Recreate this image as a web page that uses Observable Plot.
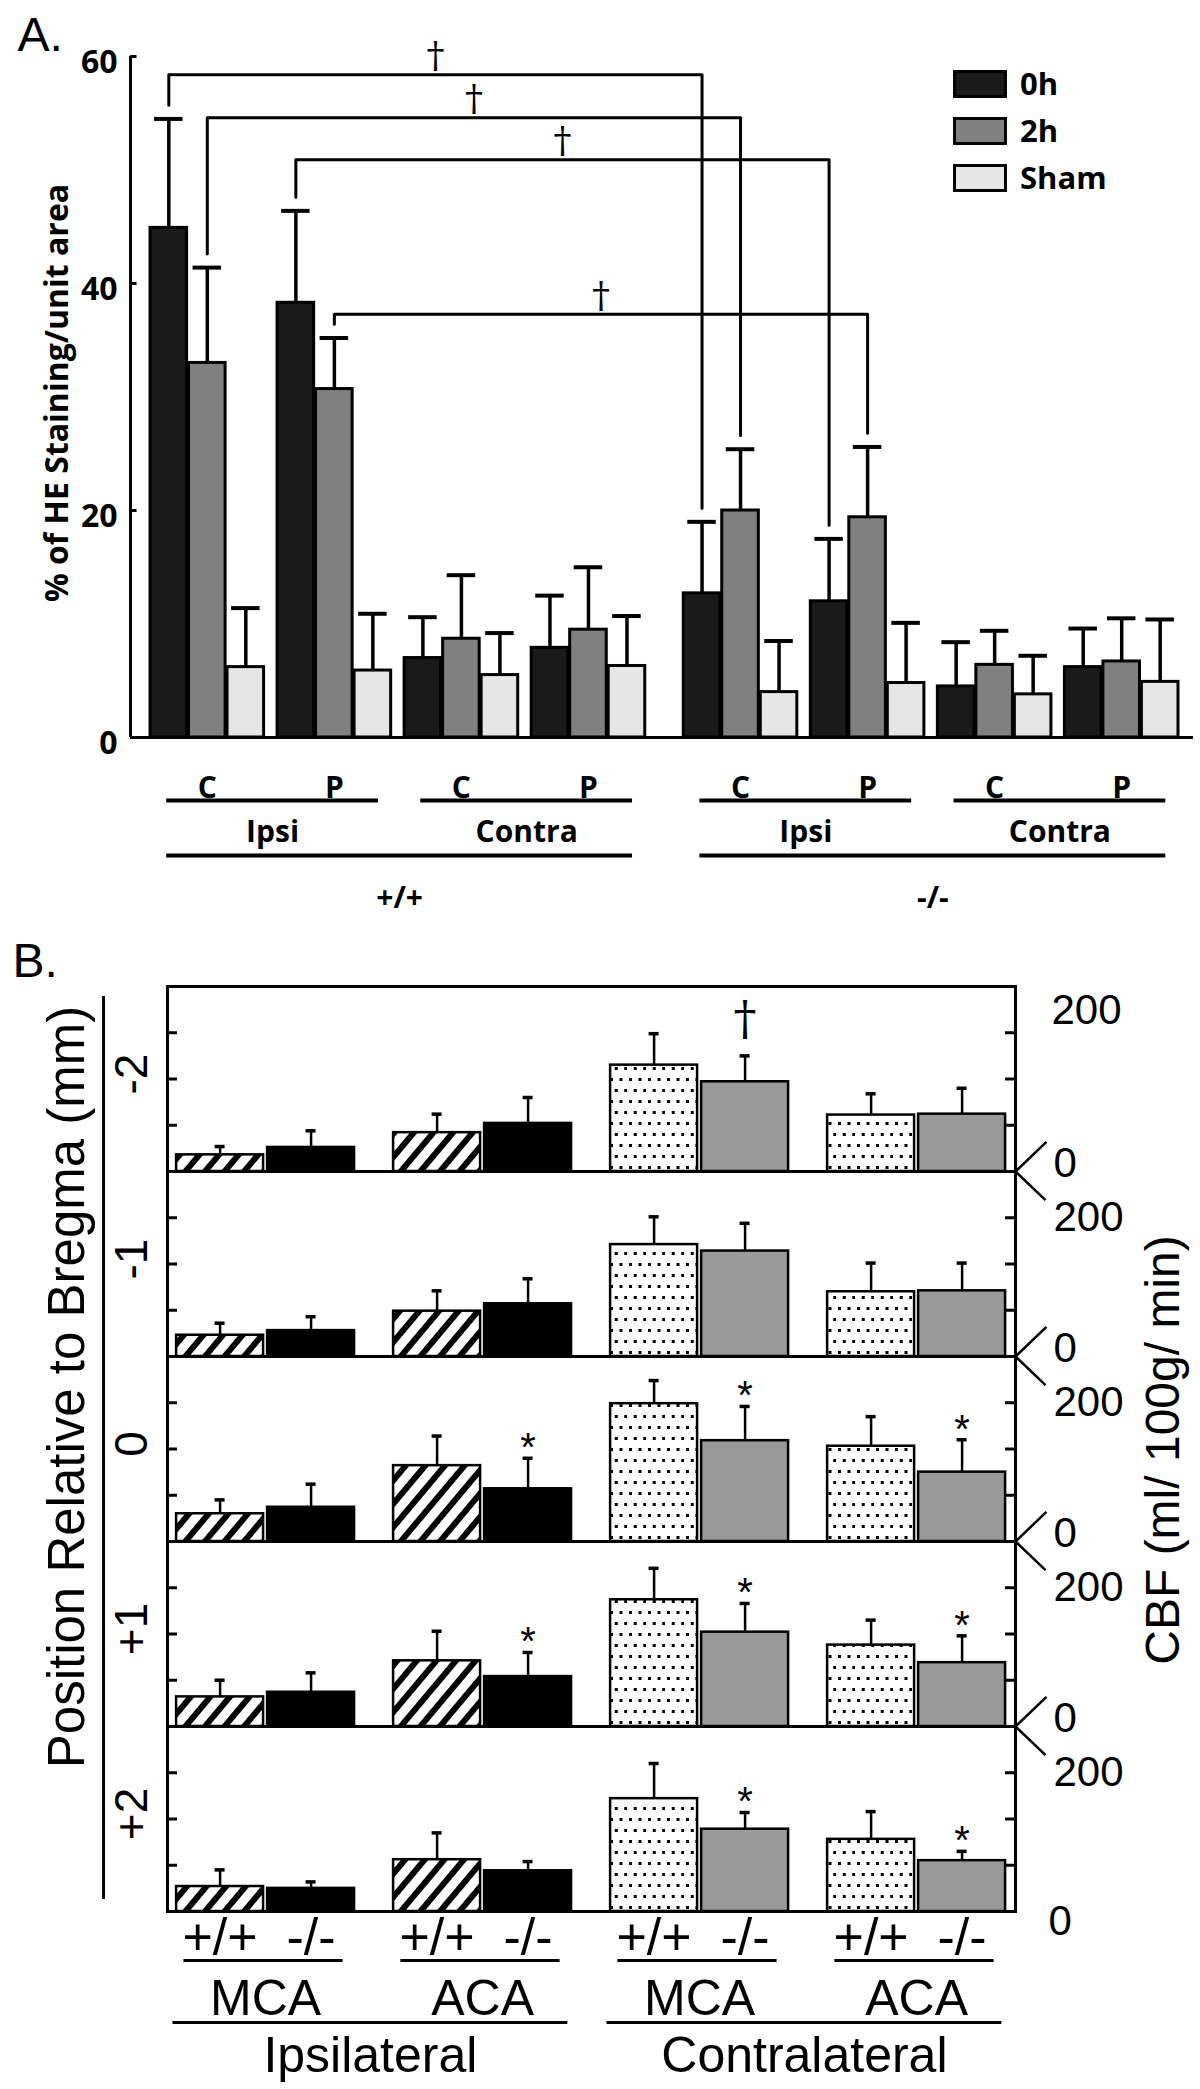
<!DOCTYPE html>
<html>
<head>
<meta charset="utf-8">
<script src="https://cdn.jsdelivr.net/npm/d3@7"></script>
<script src="https://cdn.jsdelivr.net/npm/@observablehq/plot@0.6"></script>
<style>
  html, body { margin: 0; padding: 0; background: #fff; }
  #page { position: relative; width: 1200px; height: 2089px; overflow: hidden; background: #fff; }
  #panelA { position: absolute; left: 0; top: 0; }
  #panelB { position: absolute; left: 0; top: 920px; }
  #legendA { position: absolute; left: 953px; top: 60px; }
</style>
</head>
<body>
<div id="page">
  <div id="panelA"></div>
  <div id="panelB"></div>
  <div id="legendA"></div>
</div>
<script>
// ================= PANEL A DATA =================
const genotypeA = ["+/+", "+/+", "+/+", "+/+", "-/-", "-/-", "-/-", "-/-"];
const sideA     = ["Ipsi", "Ipsi", "Contra", "Contra", "Ipsi", "Ipsi", "Contra", "Contra"];
const regionA   = ["C", "P", "C", "P", "C", "P", "C", "P"];
const timesA    = ["0h", "2h", "Sham"];
const colorsA   = ["#1a1a1a", "#808080", "#e6e6e6"];
const meanA_0h   = [44.9, 38.3, 7.0, 7.9, 12.7, 12.0, 4.5, 6.2];
const errA_0h    = [9.6, 8.1, 3.6, 4.6, 6.3, 5.5, 3.9, 3.4];
const meanA_2h   = [33.0, 30.7, 8.7, 9.5, 20.0, 19.4, 6.4, 6.7];
const errA_2h    = [8.4, 4.5, 5.6, 5.5, 5.4, 6.2, 3.0, 3.8];
const meanA_sham = [6.2, 5.9, 5.5, 6.3, 4.0, 4.8, 3.8, 4.9];
const errA_sham  = [5.2, 5.0, 3.7, 4.4, 4.5, 5.3, 3.4, 5.5];
const yTicksA    = [0, 20, 40, 60];
const bracketFromA  = [[0, "0h"], [0, "2h"], [1, "0h"], [1, "2h"]];
const bracketToA    = [[4, "0h"], [4, "2h"], [5, "0h"], [5, "2h"]];
const bracketLevelA = [58.4, 54.6, 50.9, 37.3];

// ================= PANEL B DATA =================
const rowsB        = ["-2", "-1", "0", "+1", "+2"];
const seriesSideB  = ["Ipsilateral", "Ipsilateral", "Ipsilateral", "Ipsilateral", "Contralateral", "Contralateral", "Contralateral", "Contralateral"];
const seriesArtB   = ["MCA", "MCA", "ACA", "ACA", "MCA", "MCA", "ACA", "ACA"];
const seriesGenoB  = ["+/+", "-/-", "+/+", "-/-", "+/+", "-/-", "+/+", "-/-"];
const cbfMeanM2 = [18, 26, 42, 52, 115, 97, 61, 62];
const cbfErrM2  = [9, 18, 20, 28, 34, 28, 23, 28];
const cbfMeanM1 = [23, 28, 49, 57, 121, 114, 70, 71];
const cbfErrM1  = [13, 15, 22, 27, 30, 30, 31, 30];
const cbfMean0  = [30, 37, 82, 57, 149, 109, 103, 75];
const cbfErr0   = [15, 25, 32, 33, 25, 37, 32, 35];
const cbfMeanP1 = [32, 37, 71, 54, 137, 102, 88, 69];
const cbfErrP1  = [18, 21, 32, 26, 34, 31, 27, 29];
const cbfMeanP2 = [27, 25, 56, 44, 122, 89, 78, 55];
const cbfErrP2  = [18, 7, 29, 10, 38, 18, 30, 10];
const cbfTicksB = [50, 100, 150];
const sigB = [["-2", 5, "†"], ["0", 3, "*"], ["0", 5, "*"], ["0", 7, "*"], ["+1", 3, "*"], ["+1", 5, "*"], ["+1", 7, "*"], ["+2", 5, "*"], ["+2", 7, "*"]];

// ================= PANEL A BUILD =================
const A_GROUP = 3.3, A_GENO_GAP = 0.65, A_BAR = 0.95;
const xDomA = [-0.52, 27.09];
const groupStartA = gi => gi * A_GROUP + (genotypeA[gi] === "-/-" ? A_GENO_GAP : 0);
const meansA = {"0h": meanA_0h, "2h": meanA_2h, "Sham": meanA_sham};
const errsA  = {"0h": errA_0h,  "2h": errA_2h,  "Sham": errA_sham};
const barsA = [];
genotypeA.forEach((g, gi) => timesA.forEach((t, ti) => {
  const x1 = groupStartA(gi) + ti;
  barsA.push({gi, t, x1, x2: x1 + A_BAR, xc: x1 + A_BAR / 2, mean: meansA[t][gi], top: meansA[t][gi] + errsA[t][gi]});
}));
const barA = (gi, t) => barsA.find(b => b.gi === gi && b.t === t);
const groupsA = genotypeA.map((g, gi) => ({gi, xc: groupStartA(gi) + 1.475, region: regionA[gi]}));
const sidesA = [0, 2, 4, 6].map(gi => ({x1: groupStartA(gi) + 0.42, x2: groupStartA(gi + 1) + 2.62, side: sideA[gi]}));
const genosA = ["+/+", "-/-"].map(g => {
  const idx = genotypeA.map((v, i) => v === g ? i : -1).filter(i => i >= 0);
  return {g, x1: groupStartA(idx[0]) + 0.42, x2: groupStartA(idx[idx.length - 1]) + 2.62};
});
const BR_GAP = 1.2;
const bracketPts = [], daggersA = [];
bracketFromA.forEach((f, i) => {
  const L = barA(f[0], f[1]), R = barA(bracketToA[i][0], bracketToA[i][1]);
  const lev = bracketLevelA[i];
  bracketPts.push({id: i, x: L.xc, y: L.top + BR_GAP}, {id: i, x: L.xc, y: lev}, {id: i, x: R.xc, y: lev}, {id: i, x: R.xc, y: R.top + BR_GAP});
  daggersA.push({x: (L.xc + R.xc) / 2, y: lev});
});

const boldA = {fontWeight: 700, fontFamily: "'Open Sans', sans-serif", lineAnchor: "middle"};
const plotA = Plot.plot({
  width: 1200, height: 920,
  marginLeft: 130, marginRight: 7, marginTop: 56, marginBottom: 183,
  x: {type: "linear", domain: xDomA, axis: null},
  y: {domain: [0, 60], axis: null},
  color: {type: "ordinal", domain: timesA, range: colorsA},
  style: {background: "white", overflow: "visible", fontFamily: "'Open Sans', sans-serif"},
  marks: [
    Plot.ruleX([xDomA[0]], {x: d => d, y1: 0, y2: 60, strokeWidth: 3, stroke: "#000"}),
    Plot.ruleY(yTicksA.filter(d => d > 0), {y: d => d, x1: xDomA[0], x2: xDomA[0] + 0.17, strokeWidth: 3}),
    Plot.text(yTicksA, {x: xDomA[0], y: d => d, text: d => String(d), textAnchor: "end", dx: -13, dy: 6, fontSize: 32, ...boldA}),
    Plot.rect(barsA, {x1: "x1", x2: "x2", y1: 0, y2: "mean", fill: "t", stroke: "#000", strokeWidth: 3}),
    Plot.ruleX(barsA, {x: "xc", y1: "mean", y2: "top", strokeWidth: 3.5, stroke: "#000"}),
    Plot.ruleY(barsA, {y: "top", x1: d => d.xc - 0.37, x2: d => d.xc + 0.37, strokeWidth: 4, stroke: "#000"}),
    Plot.ruleY([0], {x1: xDomA[0], x2: xDomA[1], strokeWidth: 3, stroke: "#000"}),
    Plot.line(bracketPts, {x: "x", y: "y", z: "id", stroke: "#000", strokeWidth: 3, curve: "linear"}),
    Plot.text(daggersA, {x: "x", y: "y", text: () => "†", dy: -19, fontSize: 36, lineAnchor: "middle", fontFamily: "'DejaVu Serif', serif"}),
    // category labels under the axis
    Plot.text(groupsA, {x: "xc", text: "region", frameAnchor: "bottom", dy: 51, fontSize: 30, ...boldA}),
    Plot.ruleY(sidesA, {y: 0, x1: "x1", x2: "x2", dy: 63, strokeWidth: 4}),
    Plot.text(sidesA, {x: d => (d.x1 + d.x2) / 2, text: "side", frameAnchor: "bottom", dy: 95, fontSize: 30, ...boldA}),
    Plot.ruleY(genosA, {y: 0, x1: "x1", x2: "x2", dy: 118, strokeWidth: 4}),
    Plot.text(genosA, {x: d => (d.x1 + d.x2) / 2, text: "g", frameAnchor: "bottom", dy: 161, fontSize: 30, ...boldA}),
    Plot.text(["% of HE Staining/unit area"], {text: d => d, frameAnchor: "left", textAnchor: "middle", rotate: -90, dx: -73, dy: -4, fontSize: 32, ...boldA}),
    Plot.text(["A."], {text: d => d, frameAnchor: "top-left", textAnchor: "start", lineAnchor: "middle", dx: -113, dy: -21, fontSize: 48, fontFamily: "'Liberation Sans', Arial, sans-serif"})
  ]
});
document.getElementById("panelA").append(plotA);

// legend for panel A
const legEl = document.getElementById("legendA");
timesA.forEach((t, i) => {
  const row = document.createElement("div");
  row.style.cssText = "display:flex;align-items:center;height:47px;";
  const sw = document.createElement("span");
  sw.style.cssText = `display:inline-block;width:54px;height:28px;box-sizing:border-box;border:3px solid #000;background:${colorsA[i]};`;
  const lb = document.createElement("span");
  lb.textContent = t;
  lb.style.cssText = "margin-left:13px;font:700 31px 'Open Sans',sans-serif;line-height:1;";
  row.append(sw, lb);
  legEl.append(row);
});

// ================= PANEL B BUILD =================
const B_PAIR = 2.385, B_BAR = 0.956;
const xDomB = [-0.1, 9.22];
const meansB = {"-2": cbfMeanM2, "-1": cbfMeanM1, "0": cbfMean0, "+1": cbfMeanP1, "+2": cbfMeanP2};
const errsB  = {"-2": cbfErrM2,  "-1": cbfErrM1,  "0": cbfErr0,  "+1": cbfErrP1,  "+2": cbfErrP2};
const seriesB = seriesSideB.map((s, k) => {
  const p = Math.floor(k / 2), g = k % 2;
  const x1 = p * B_PAIR + g;
  return {k, side: s, art: seriesArtB[k], geno: seriesGenoB[k], key: s + " " + seriesGenoB[k], x1, x2: x1 + B_BAR, xc: x1 + B_BAR / 2};
});
const barsB = [];
rowsB.forEach(r => seriesB.forEach(s => barsB.push({...s, row: r, mean: meansB[r][s.k], top: meansB[r][s.k] + errsB[r][s.k]})));
const sigDataB = sigB.map(([r, k, sym]) => ({...barsB.find(b => b.row === r && b.k === k), sym}));
const fillKeysB = ["Ipsilateral +/+", "Ipsilateral -/-", "Contralateral +/+", "Contralateral -/-"];
const fillValsB = ["url(#hatchB)", "#000000", "url(#dotsB)", "#999999"];
const pairsB = [0, 1, 2, 3].map(p => ({art: seriesArtB[p * 2], x1: p * B_PAIR + 0.08, x2: p * B_PAIR + 1.83, xc: p * B_PAIR + B_BAR + 0.022}));
const sidesB = [0, 1].map(s => ({side: seriesSideB[s * 4], x1: s * 2 * B_PAIR - 0.04, x2: s * 2 * B_PAIR + 4.3}));
const tickRowsB = [];
rowsB.forEach(r => cbfTicksB.forEach(v => tickRowsB.push({row: r, v})));
const TICK_B = 0.11;
const sans = "'Liberation Sans', Arial, sans-serif";
const mid = {lineAnchor: "middle"};

const plotB = Plot.plot({
  width: 1200, height: 1169,
  marginLeft: 167, marginRight: 185, marginTop: 65, marginBottom: 178,
  x: {type: "linear", domain: xDomB, axis: null},
  y: {domain: [0, 200], axis: null},
  fy: {domain: rowsB, padding: 0, axis: null},
  color: {type: "ordinal", domain: fillKeysB, range: fillValsB},
  style: {background: "white", overflow: "visible", fontFamily: sans},
  marks: [
    Plot.rect(barsB, {fy: "row", x1: "x1", x2: "x2", y1: 0, y2: "mean", fill: "key", stroke: "#000", strokeWidth: 2.5}),
    Plot.ruleX(barsB, {fy: "row", x: "xc", y1: "mean", y2: "top", strokeWidth: 2.5, stroke: "#000"}),
    Plot.ruleY(barsB, {fy: "row", y: "top", x1: d => d.xc - 0.055, x2: d => d.xc + 0.055, strokeWidth: 3.5, stroke: "#000"}),
    Plot.ruleY(tickRowsB, {fy: "row", y: "v", x1: xDomB[0], x2: xDomB[0] + TICK_B, strokeWidth: 3}),
    Plot.ruleY(tickRowsB, {fy: "row", y: "v", x1: xDomB[1] - TICK_B, x2: xDomB[1], strokeWidth: 3}),
    Plot.frame({stroke: "#000", strokeWidth: 3}),
    // significance symbols
    Plot.text(sigDataB.filter(d => d.sym === "*"), {fy: "row", x: "xc", y: "top", text: "sym", dy: -10, fontSize: 40, ...mid}),
    Plot.text(sigDataB.filter(d => d.sym === "†"), {fy: "row", x: "xc", y: "top", text: "sym", dy: -37, fontSize: 46, fontFamily: "'DejaVu Serif', serif", ...mid}),
    // right-hand CBF scale labels and break marks
    Plot.text(rowsB.slice(0, 4), {fy: d => d, y: 0, text: () => "0", frameAnchor: "right", textAnchor: "start", dx: 38, dy: -8, fontSize: 42, ...mid}),
    Plot.text(rowsB.slice(4), {fy: d => d, y: 0, text: () => "0", frameAnchor: "right", textAnchor: "start", dx: 33, dy: 10, fontSize: 42, ...mid}),
    Plot.text(rowsB.slice(1), {fy: d => d, y: 200, text: () => "200", frameAnchor: "right", textAnchor: "start", dx: 38, dy: 46, fontSize: 42, ...mid}),
    Plot.text(rowsB.slice(0, 1), {fy: d => d, y: 200, text: () => "200", frameAnchor: "right", textAnchor: "start", dx: 36, dy: 24, fontSize: 42, ...mid}),
    Plot.link(rowsB.slice(0, 4), {fy: d => d, x1: xDomB[1], y1: 0, x2: xDomB[1] + 0.34, y2: 32, strokeWidth: 2.5, stroke: "#000"}),
    Plot.link(rowsB.slice(1), {fy: d => d, x1: xDomB[1], y1: 200, x2: xDomB[1] + 0.33, y2: 169, strokeWidth: 2.5, stroke: "#000"}),
    // left row labels and rule
    Plot.text(rowsB, {fy: d => d, text: d => d, frameAnchor: "left", textAnchor: "middle", rotate: -90, dx: -35, dy: -5, fontSize: 46, ...mid}),
    Plot.ruleX(rowsB.slice(1, 4), {fy: d => d, x: xDomB[0] - 0.703, strokeWidth: 3}),
    Plot.ruleX(rowsB.slice(0, 1), {fy: d => d, x: xDomB[0] - 0.703, insetTop: 10, strokeWidth: 3}),
    Plot.ruleX(rowsB.slice(4), {fy: d => d, x: xDomB[0] - 0.703, insetBottom: 12, strokeWidth: 3}),
    Plot.text(["Position Relative to Bregma (mm)"], {fy: () => "0", text: d => d, frameAnchor: "left", textAnchor: "middle", rotate: -90, dx: -100, dy: -62, fontSize: 51, ...mid}),
    Plot.text(["CBF (ml/ 100g/ min)"], {fy: () => "0", text: d => d, frameAnchor: "right", textAnchor: "middle", rotate: -90, dx: 148, dy: 1, fontSize: 48, ...mid}),
    Plot.text(["B."], {fy: () => "-2", text: d => d, frameAnchor: "top-left", textAnchor: "start", dx: -155, dy: -25, fontSize: 48, ...mid}),
    // bottom category labels
    Plot.text(seriesB, {fy: () => "+2", x: "xc", y: 0, text: "geno", dy: 27, fontSize: 52, ...mid}),
    Plot.ruleY(pairsB, {fy: () => "+2", y: 0, x1: "x1", x2: "x2", dy: 49, strokeWidth: 3}),
    Plot.text(pairsB, {fy: () => "+2", x: "xc", y: 0, text: "art", dy: 87, fontSize: 50, ...mid}),
    Plot.ruleY(sidesB, {fy: () => "+2", y: 0, x1: "x1", x2: "x2", dy: 111, strokeWidth: 3}),
    Plot.text(sidesB, {fy: () => "+2", x: d => (d.x1 + d.x2) / 2, y: 0, text: "side", dy: 144, fontSize: 50, ...mid})
  ]
});
// fill patterns for hatched / dotted bars
const svgB = plotB.tagName.toLowerCase() === "svg" ? plotB : plotB.querySelector("svg");
const ns = "http://www.w3.org/2000/svg";
const defs = document.createElementNS(ns, "defs");
defs.innerHTML =
  '<pattern id="hatchB" patternUnits="userSpaceOnUse" width="15" height="15" patternTransform="rotate(40)">' +
  '<rect width="15" height="15" fill="#fff"/><rect width="6" height="15" fill="#000"/></pattern>' +
  '<pattern id="dotsB" patternUnits="userSpaceOnUse" width="19" height="22">' +
  '<rect width="19" height="22" fill="#fff"/>' +
  '<rect x="2" y="3" width="3" height="3" fill="#000"/><rect x="11.5" y="3" width="3" height="3" fill="#000"/>' +
  '<rect x="6.75" y="14" width="3" height="3" fill="#000"/><rect x="16.25" y="14" width="3" height="3" fill="#000"/></pattern>';
svgB.insertBefore(defs, svgB.firstChild);
document.getElementById("panelB").append(plotB);
</script>
</body>
</html>
